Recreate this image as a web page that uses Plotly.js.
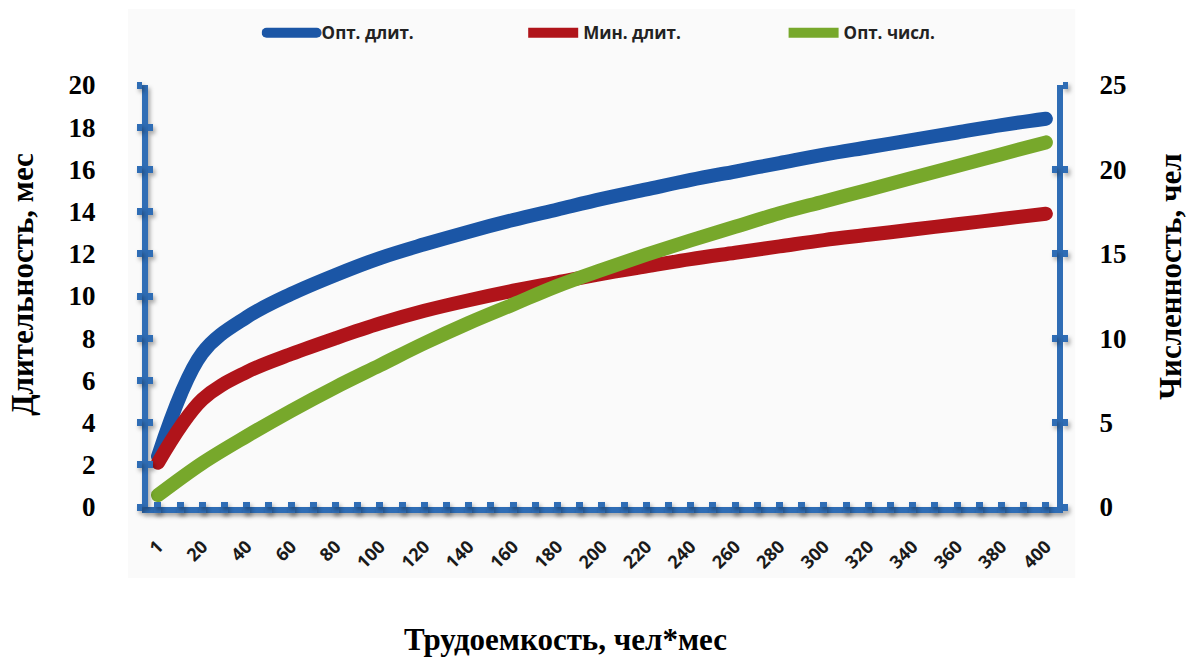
<!DOCTYPE html>
<html><head><meta charset="utf-8">
<script src="https://cdn.plot.ly/plotly-3.0.1.min.js"></script>
<style>
html,body{margin:0;padding:0;background:#fff;}
#chart{width:1200px;height:665px;}
.scatterlayer .js-line{stroke-linecap:round;stroke-linejoin:round;}
.legend .js-line{stroke-linecap:round;}
path[class*="lines-above"], path.ticks{filter:drop-shadow(2px 3px 2px rgba(0,0,0,0.35));}
</style></head><body><div id="chart"></div>
<script>
const categories = ['1','20','40','60','80','100','120','140','160','180','200','220','240','260','280','300','320','340','360','380','400'];
const optDuration = [2.4, 7.3, 9.0, 10.1, 11.0, 11.8, 12.45, 13.05, 13.6, 14.1, 14.6, 15.05, 15.5, 15.9, 16.3, 16.7, 17.05, 17.4, 17.75, 18.1, 18.4];
const minDuration = [2.1, 5.1, 6.4, 7.25, 8.0, 8.7, 9.3, 9.8, 10.25, 10.65, 11.05, 11.4, 11.75, 12.05, 12.35, 12.65, 12.9, 13.15, 13.4, 13.65, 13.9];
const optHeadcount = [0.7, 2.6, 4.2, 5.7, 7.1, 8.4, 9.7, 10.9, 12.0, 13.1, 14.05, 14.95, 15.8, 16.6, 17.4, 18.1, 18.8, 19.5, 20.2, 20.9, 21.6];
const seriesNames = ['Опт. длит.', 'Мин. длит.', 'Опт. числ.'];
const leftTitle = 'Длительность, мес';
const rightTitle = 'Численность, чел';
const xTitle = 'Трудоемкость, чел*мес';

const AX = '#2f6db5';
const C_BLUE = '#1b56a6', C_RED = '#b0141a', C_GREEN = '#77a82b';
const LW = 14;
const XR = [-0.225, 20.25];

const traces = [
  {x: categories, y: optDuration, name: seriesNames[0], type: 'scatter', mode: 'lines', legend: 'legend',
   line: {color: C_BLUE, width: LW, shape: 'spline', smoothing: 1}, xaxis: 'x', yaxis: 'y'},
  {x: categories, y: minDuration, name: seriesNames[1], type: 'scatter', mode: 'lines', legend: 'legend2',
   line: {color: C_RED, width: LW, shape: 'spline', smoothing: 1}, xaxis: 'x', yaxis: 'y'},
  {x: categories, y: optHeadcount, name: seriesNames[2], type: 'scatter', mode: 'lines', legend: 'legend3',
   line: {color: C_GREEN, width: LW, shape: 'spline', smoothing: 1}, xaxis: 'x', yaxis: 'y2'},
  {x: [], y: [], xaxis: 'x2', yaxis: 'y', showlegend: false, hoverinfo: 'skip', type: 'scatter'},
  {x: [], y: [], xaxis: 'x3', yaxis: 'y', showlegend: false, hoverinfo: 'skip', type: 'scatter'},
  {x: [], y: [], xaxis: 'x', yaxis: 'y3', showlegend: false, hoverinfo: 'skip', type: 'scatter'},
  {x: [], y: [], xaxis: 'x', yaxis: 'y4', showlegend: false, hoverinfo: 'skip', type: 'scatter'}
];

const serifBold = {family: 'Liberation Serif, Times New Roman, serif', size: 27, color: '#000', weight: 700};
const titleFont = {family: 'Liberation Serif, Times New Roman, serif', size: 31, color: '#000', weight: 700};
const decoX = (side) => ({overlaying: 'x', anchor: 'y', type: 'linear', range: XR, tick0: 0, dtick: 0.5,
  ticks: side, ticklen: 5, tickwidth: 7, tickcolor: AX, showticklabels: false, showline: false,
  showgrid: false, zeroline: false, fixedrange: true});
const legendAt = (xc) => ({orientation: 'h', xref: 'container', yref: 'container', x: xc, xanchor: 'left',
  y: 0.95, yanchor: 'middle', font: {family: 'Open Sans, sans-serif', size: 17, color: '#222', weight: 700},
  itemwidth: 50, bgcolor: 'rgba(0,0,0,0)'});

const layout = {
  width: 1200, height: 665,
  margin: {l: 148, r: 143, t: 85, b: 158},
  paper_bgcolor: '#ffffff', plot_bgcolor: 'rgba(0,0,0,0)',
  showlegend: true,
  legend: legendAt(0.218),
  legend2: legendAt(0.436),
  legend3: legendAt(0.653),
  xaxis: {type: 'category', range: XR, showline: true, linecolor: AX, linewidth: 6,
    ticks: '', tickangle: -45, ticklabelstandoff: 16,
    tickfont: {family: 'Open Sans, sans-serif', size: 18, color: '#1a1a1a', weight: 700},
    showgrid: false, zeroline: false, fixedrange: true},
  xaxis2: decoX('outside'),
  xaxis3: decoX('inside'),
  yaxis: {range: [0, 20], dtick: 2, tick0: 0, showline: true, linecolor: AX, linewidth: 6,
    ticks: 'outside', ticklen: 5, tickwidth: 7, tickcolor: AX, tickfont: serifBold, ticklabelstandoff: 36,
    showgrid: false, zeroline: false, fixedrange: true},
  yaxis3: {overlaying: 'y', anchor: 'x', side: 'left', range: [0, 20], dtick: 2, tick0: 0,
    ticks: 'inside', ticklen: 5, tickwidth: 7, tickcolor: AX, showticklabels: false, showline: false,
    showgrid: false, zeroline: false, fixedrange: true},
  yaxis2: {overlaying: 'y', anchor: 'x', side: 'right', range: [0, 25], dtick: 5, tick0: 0,
    showline: true, linecolor: AX, linewidth: 6,
    ticks: 'outside', ticklen: 5, tickwidth: 7, tickcolor: AX, tickfont: serifBold, ticklabelstandoff: 26,
    showgrid: false, zeroline: false, fixedrange: true},
  yaxis4: {overlaying: 'y', anchor: 'x', side: 'right', range: [0, 25], dtick: 5, tick0: 0,
    ticks: 'inside', ticklen: 5, tickwidth: 7, tickcolor: AX, showticklabels: false, showline: false,
    showgrid: false, zeroline: false, fixedrange: true},
  shapes: [{type: 'rect', xref: 'paper', yref: 'paper', x0: -0.022, x1: 1.02, y0: -0.168, y1: 1.18,
    fillcolor: '#fafafa', line: {width: 0}, layer: 'below'}],
  annotations: [
    {text: leftTitle, textangle: -90, xref: 'paper', yref: 'paper', x: -0.138, y: 0.528,
     xanchor: 'center', yanchor: 'middle', showarrow: false, font: titleFont},
    {text: rightTitle, textangle: -90, xref: 'paper', yref: 'paper', x: 1.124, y: 0.545,
     xanchor: 'center', yanchor: 'middle', showarrow: false, font: titleFont},
    {text: xTitle, xref: 'paper', yref: 'paper', x: 0.459, y: -0.315,
     xanchor: 'center', yanchor: 'middle', showarrow: false, font: titleFont}
  ]
};

Plotly.newPlot('chart', traces, layout, {displayModeBar: false, staticPlot: true});
</script>
</body></html>
